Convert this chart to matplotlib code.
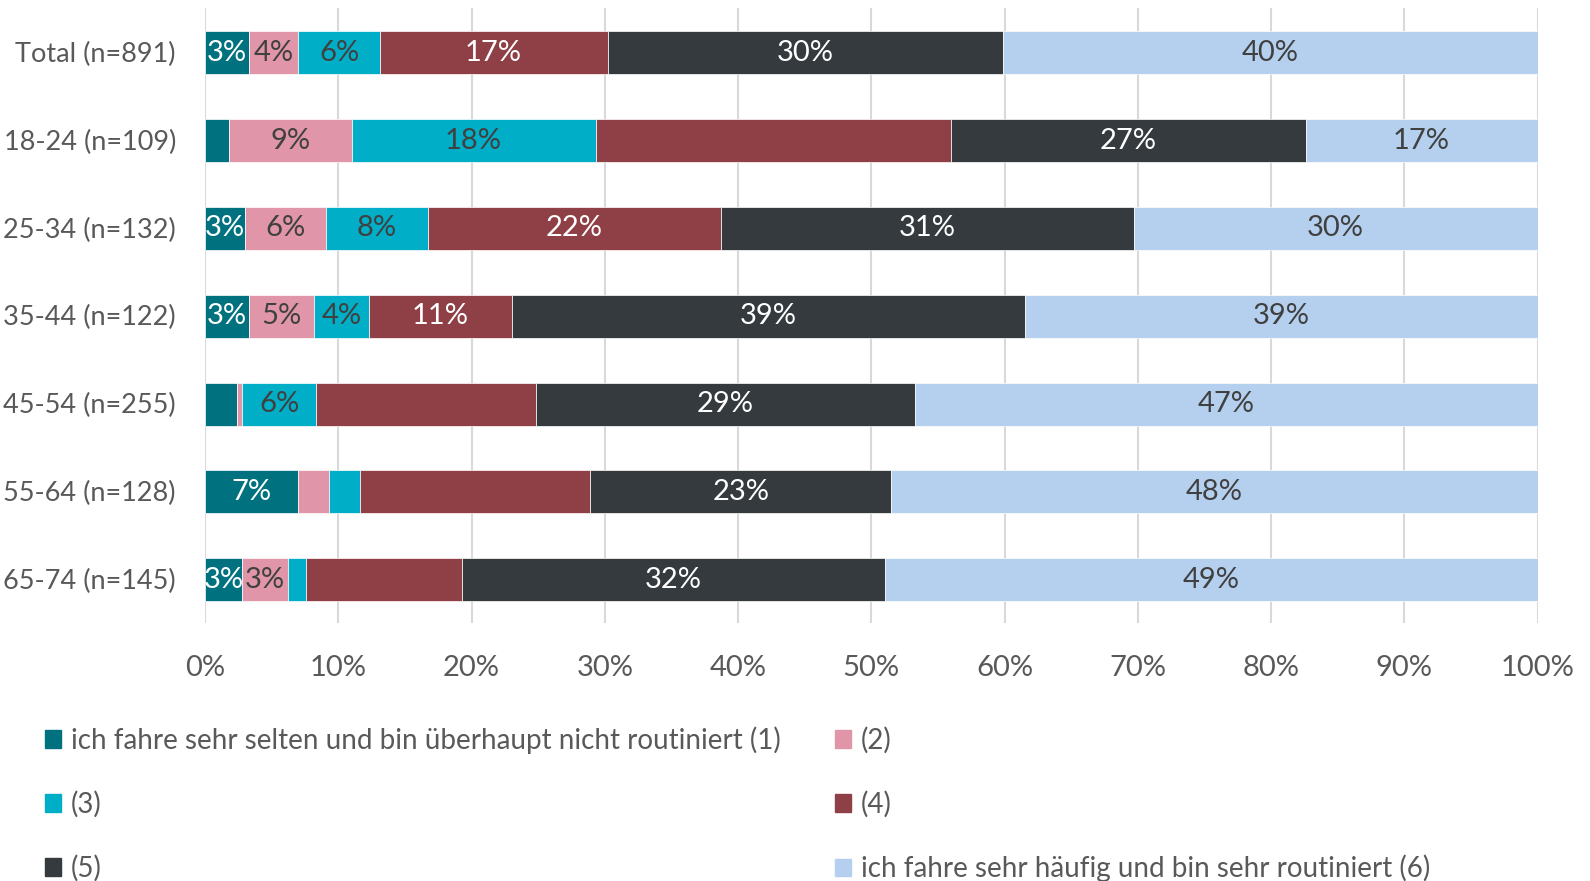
"""Stacked horizontal bars: Fahrroutine nach Altersgruppen."""

import matplotlib.pyplot as plt
import numpy as np
from matplotlib.patches import Patch

plt.rcParams["font.family"] = ["Lato", "DejaVu Sans"]

# categories, top to bottom
groups = ["Total (n=891)", "18-24 (n=109)", "25-34 (n=132)", "35-44 (n=122)",
          "45-54 (n=255)", "55-64 (n=128)", "65-74 (n=145)"]

# shares in percent, one list per answer level
s1 = [3.3, 1.8, 3.0, 3.3, 2.4, 7.0, 2.8]
s2 = [3.7, 9.2, 6.1, 4.9, 0.4, 2.3, 3.4]
s3 = [6.1, 18.3, 7.6, 4.1, 5.5, 2.3, 1.4]
s4 = [17.1, 26.7, 22.0, 10.7, 16.5, 17.3, 11.7]
s5 = [29.7, 26.6, 31.0, 38.5, 28.5, 22.6, 31.7]
s6 = [40.1, 17.4, 30.3, 38.5, 46.7, 48.5, 49.0]

# printed labels (None = no label shown in the source)
l1 = ["3%", None, "3%", "3%", None, "7%", "3%"]
l2 = ["4%", "9%", "6%", "5%", None, None, "3%"]
l3 = ["6%", "18%", "8%", "4%", "6%", None, None]
l4 = ["17%", None, "22%", "11%", None, None, None]
l5 = ["30%", "27%", "31%", "39%", "29%", "23%", "32%"]
l6 = ["40%", "17%", "30%", "39%", "47%", "48%", "49%"]

names = ["ich fahre sehr selten und bin überhaupt nicht routiniert (1)",
         "(2)", "(3)", "(4)", "(5)",
         "ich fahre sehr häufig und bin sehr routiniert (6)"]
colors = ["#00717E", "#E096A8", "#00AEC7", "#8F4046", "#343A3D", "#B5D0EE"]
text_colors = ["white", "#404040", "#404040", "white", "white", "#404040"]

series = [s1, s2, s3, s4, s5, s6]
labels = [l1, l2, l3, l4, l5, l6]
GRAY = "#595959"

fig = plt.figure(figsize=(15.9, 8.81), dpi=100)
ax = fig.add_axes([0.129, 0.293, 0.838, 0.698])

y = np.arange(len(groups))
left = np.zeros(len(groups))
for vals, labs, col, tcol in zip(series, labels, colors, text_colors):
    vals = np.array(vals)
    bars = ax.barh(y + 0.01, vals, left=left, height=0.49, color=col,
                   edgecolor="white", linewidth=0.5, zorder=3)
    ax.bar_label(bars, labels=[lab or "" for lab in labs], label_type="center",
                 color=tcol, fontsize=21)
    left += vals

ax.set_xlim(0, 100)
ax.set_ylim(6.5, -0.5)
ax.set_yticks(y)
ax.set_yticklabels(groups, fontsize=19.5, color=GRAY)
ax.set_xticks(np.arange(0, 101, 10))
ax.set_xticklabels([f"{v}%" for v in range(0, 101, 10)], fontsize=21, color=GRAY)
ax.tick_params(length=0, axis="y", pad=21)
ax.tick_params(length=0, axis="x", pad=23)
ax.grid(axis="x", color="#D9D9D9", linewidth=1.5, zorder=0)
for sp in ax.spines.values():
    sp.set_visible(False)

handles = [Patch(color=c) for c in colors]
order = [0, 2, 4, 1, 3, 5]
leg = fig.legend([handles[i] for i in order], [names[i] for i in order],
                 ncol=2, loc="upper left", bbox_to_anchor=(0.021, 0.188),
                 frameon=False, fontsize=20, handlelength=0.6, handleheight=0.6,
                 handletextpad=0.35, labelspacing=1.33, columnspacing=1.95,
                 labelcolor=GRAY, borderaxespad=0)

fig.savefig("out.png", dpi=100)
